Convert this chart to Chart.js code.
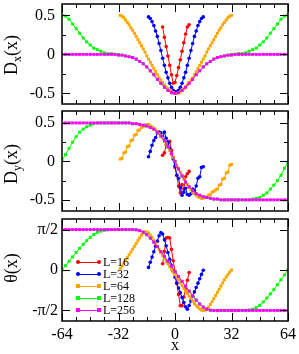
<!DOCTYPE html>
<html lang="en">
<head>
<meta charset="UTF-8">
<title>Dx, Dy and theta profiles</title>
<script src="https://cdn.jsdelivr.net/npm/chart.js"></script>
<style>
  body {
    margin: 0;
    width: 299px;
    height: 354px;
    overflow: hidden;
    position: relative;
    background: #fff;
    font-family: 'Liberation Serif', 'Times New Roman', serif;
    color: #000;
  }
  canvas { position: absolute; left: 0; }
  .ytitle {
    position: absolute;
    font-size: 18px;
    line-height: 18px;
    white-space: nowrap;
    transform: translate(-50%, -50%) rotate(-90deg);
  }
  .ytitle sub { font-size: 12px; line-height: 0; vertical-align: -4px; }
  #legend { position: absolute; left: 78px; top: 256px; font-size: 12px; }
  .row { display: flex; align-items: center; height: 12px; line-height: 12px; }
  .sample { position: relative; width: 21px; height: 12px; }
  .sample .seg { position: absolute; left: 0; right: 0; top: 5.5px; height: 1px; }
  .sample .dot { position: absolute; top: 4px; width: 4px; height: 4px; }
  .row span.txt { margin-left: 4px; }
</style>
</head>
<body>

<canvas id="p1" width="299" height="108" style="top:0"></canvas>
<canvas id="p2" width="299" height="108" style="top:107px"></canvas>
<canvas id="p3" width="299" height="139" style="top:215px"></canvas>

<div class="ytitle" style="left:11px;top:55px">D<sub>x</sub>(x)</div>
<div class="ytitle" style="left:11px;top:164px">D<sub>y</sub>(x)</div>
<div class="ytitle" style="left:11px;top:268px">θ(x)</div>
<div id="legend"></div>

<script>
// series: L = 16, 32, 64, 128, 256
const seriesLabels = ['L=16', 'L=32', 'L=64', 'L=128', 'L=256'];
const seriesFirstX = [-7, -15, -31, -64, -64];
const seriesStepX = [1, 1, 1, 2, 2];

const xTickValues = [-64, -56, -48, -40, -32, -24, -16, -8, 0, 8, 16, 24, 32, 40, 48, 56, 64];
const dTickValues = [-0.5, -0.25, 0, 0.25, 0.5];
const dTickLabels = ['-0.5', '', '0', '', '0.5'];
const thetaTickValues = [-Math.PI / 2, 0, Math.PI / 2];
const thetaTickLabels = ['-π/2', '0', 'π/2'];

// D_x(x)
const dxL16 = [0.35, 0.22, 0.10, -0.02, -0.14, -0.26, -0.37, -0.36, -0.27, -0.17, -0.07, 0.04, 0.15, 0.26, 0.35, 0.38];
const dxL32 = [0.48, 0.46, 0.42, 0.37, 0.30, 0.23, 0.14, 0.05, -0.05, -0.14, -0.23, -0.30, -0.37, -0.42, -0.46, -0.48,
  -0.48, -0.46, -0.42, -0.37, -0.30, -0.23, -0.14, -0.05, 0.05, 0.14, 0.23, 0.30, 0.37, 0.42, 0.46, 0.48];
const dxL64 = [0.50, 0.49, 0.47, 0.44, 0.41, 0.38, 0.34, 0.31, 0.27, 0.23, 0.19, 0.15, 0.11, 0.07, 0.03, -0.02,
  -0.06, -0.10, -0.14, -0.18, -0.22, -0.26, -0.30, -0.33, -0.36, -0.39, -0.42, -0.44, -0.46, -0.48, -0.49, -0.50,
  -0.50, -0.49, -0.48, -0.46, -0.44, -0.42, -0.39, -0.36, -0.33, -0.30, -0.26, -0.22, -0.18, -0.14, -0.10, -0.06,
  -0.02, 0.03, 0.07, 0.11, 0.15, 0.19, 0.23, 0.27, 0.31, 0.34, 0.38, 0.41, 0.44, 0.47, 0.49, 0.50];
const dxL128 = [0.50, 0.49, 0.45, 0.39, 0.33, 0.27, 0.21, 0.16, 0.12, 0.08, 0.06, 0.04, 0.02, 0.01, 0.01, 0.00,
  0.00, -0.01, -0.02, -0.03, -0.04, -0.06, -0.09, -0.12, -0.16, -0.21, -0.26, -0.32, -0.37, -0.42, -0.46, -0.49,
  -0.50,
  -0.49, -0.46, -0.42, -0.37, -0.32, -0.26, -0.21, -0.16, -0.12, -0.09, -0.06, -0.04, -0.03, -0.02, -0.01, 0.00,
  0.00, 0.01, 0.01, 0.02, 0.04, 0.06, 0.08, 0.12, 0.16, 0.21, 0.27, 0.33, 0.39, 0.45, 0.49, 0.50];
const dxL256 = [0, 0, 0, 0, 0, 0, 0, 0, 0, 0, 0, 0, 0, 0, 0, 0,
  -0.01, -0.01, -0.02, -0.03, -0.04, -0.06, -0.09, -0.12, -0.16, -0.21, -0.26, -0.32, -0.37, -0.42, -0.46, -0.49,
  -0.50,
  -0.49, -0.46, -0.42, -0.37, -0.32, -0.26, -0.21, -0.16, -0.12, -0.09, -0.06, -0.04, -0.03, -0.02, -0.01, -0.01,
  0, 0, 0, 0, 0, 0, 0, 0, 0, 0, 0, 0, 0, 0, 0, 0];

// D_y(x)
const dyL16 = [0.08, 0.11, 0.22, 0.24, 0.26, 0.14, 0.05, -0.08, -0.18, -0.32, -0.41, -0.30, -0.36, -0.20, -0.16, -0.13];
const dyL32 = [0.06, 0.13, 0.21, 0.27, 0.31, 0.37, 0.38, 0.37, 0.32, 0.38, 0.30, 0.25, 0.17, 0.10, 0.03, -0.06,
  -0.18, -0.22, -0.34, -0.44, -0.40, -0.35, -0.43, -0.44, -0.42, -0.36, -0.38, -0.32, -0.22, -0.20, -0.08, -0.07];
const dyL64 = [0.03, 0.04, 0.11, 0.12, 0.19, 0.20, 0.27, 0.28, 0.34, 0.35, 0.40, 0.41, 0.44, 0.45, 0.47, 0.48,
  0.48, 0.46, 0.45, 0.43, 0.41, 0.38, 0.36, 0.33, 0.30, 0.26, 0.23, 0.18, 0.14, 0.09, 0.05, 0.00,
  -0.05, -0.09, -0.14, -0.18, -0.23, -0.27, -0.30, -0.34, -0.37, -0.40, -0.42, -0.44, -0.46, -0.47, -0.48, -0.48,
  -0.47, -0.46, -0.44, -0.43, -0.40, -0.39, -0.37, -0.36, -0.31, -0.30, -0.23, -0.22, -0.15, -0.14, -0.05, -0.04];
const dyL128 = [0.01, 0.09, 0.17, 0.25, 0.32, 0.38, 0.42, 0.45, 0.47, 0.49,
  0.50, 0.50, 0.50, 0.50, 0.50, 0.50, 0.50, 0.50, 0.50, 0.50,
  0.49, 0.49, 0.48, 0.47, 0.46, 0.44, 0.42, 0.38, 0.33, 0.27, 0.19, 0.10,
  0.00,
  -0.10, -0.19, -0.27, -0.33, -0.38, -0.42, -0.44, -0.46, -0.47, -0.48, -0.49, -0.49,
  -0.50, -0.50, -0.50, -0.50, -0.50, -0.50, -0.50, -0.50, -0.50,
  -0.49, -0.48, -0.47, -0.44, -0.41, -0.36, -0.31, -0.25, -0.18, -0.09, -0.01];
const dyL256 = [0.50, 0.50, 0.50, 0.50, 0.50, 0.50, 0.50, 0.50, 0.50, 0.50,
  0.50, 0.50, 0.50, 0.50, 0.50, 0.50, 0.50, 0.50, 0.50, 0.50,
  0.49, 0.49, 0.48, 0.47, 0.46, 0.44, 0.42, 0.38, 0.33, 0.27, 0.19, 0.10,
  0.00,
  -0.10, -0.19, -0.27, -0.33, -0.38, -0.42, -0.44, -0.46, -0.47, -0.48, -0.49, -0.49,
  -0.50, -0.50, -0.50, -0.50, -0.50, -0.50, -0.50, -0.50, -0.50, -0.50,
  -0.50, -0.50, -0.50, -0.50, -0.50, -0.50, -0.50, -0.50, -0.50, -0.50];

// theta(x)
const thL16 = [0.24, 0.72, 1.24, 1.26, 1.24, 0.80, 0.36, -0.08, -0.52, -0.95, -1.39, -1.39, -1.05, -0.72, -0.40, -0.10];
const thL32 = [0.10, 0.30, 0.50, 0.71, 0.92, 1.12, 1.33, 1.45, 1.40, 1.17, 0.94, 0.68, 0.42, 0.18, -0.05, -0.28,
  -0.50, -0.70, -0.88, -1.07, -1.26, -1.43, -1.52, -1.38, -1.20, -1.02, -0.85, -0.68, -0.51, -0.34, -0.17, -0.01];
const thL64 = [0.05, 0.15, 0.26, 0.37, 0.48, 0.59, 0.70, 0.81, 0.92, 1.03, 1.14, 1.25, 1.35, 1.43, 1.48, 1.48,
  1.44, 1.36, 1.27, 1.15, 1.03, 0.91, 0.79, 0.67, 0.56, 0.45, 0.34, 0.24, 0.13, 0.03, -0.08, -0.18,
  -0.28, -0.39, -0.50, -0.60, -0.71, -0.81, -0.91, -1.01, -1.11, -1.21, -1.30, -1.38, -1.45, -1.51, -1.55, -1.57,
  -1.56, -1.51, -1.44, -1.34, -1.23, -1.11, -0.99, -0.87, -0.75, -0.62, -0.50, -0.38, -0.27, -0.17, -0.08, 0.00];
const thL128 = [0.00, 0.17, 0.34, 0.51, 0.68, 0.84, 1.00, 1.14, 1.27, 1.38, 1.46, 1.51, 1.54, 1.56,
  1.57, 1.57, 1.57, 1.57, 1.57, 1.57, 1.57,
  1.56, 1.53, 1.47, 1.37, 1.24, 1.08, 0.91, 0.72, 0.53, 0.34, 0.15,
  -0.05,
  -0.25, -0.44, -0.63, -0.82, -1.00, -1.17, -1.32, -1.44, -1.52, -1.56,
  -1.57, -1.57, -1.57, -1.57, -1.57, -1.57, -1.57, -1.57, -1.57, -1.57,
  -1.55, -1.52, -1.46, -1.37, -1.24, -1.09, -0.93, -0.76, -0.57, -0.38, -0.19, 0.00];
const thL256 = [1.57, 1.57, 1.57, 1.57, 1.57, 1.57, 1.57, 1.57, 1.57, 1.57, 1.57,
  1.57, 1.57, 1.57, 1.57, 1.57, 1.57, 1.57, 1.57, 1.57, 1.57,
  1.56, 1.53, 1.47, 1.37, 1.24, 1.08, 0.91, 0.72, 0.53, 0.34, 0.15,
  -0.05,
  -0.25, -0.44, -0.63, -0.82, -1.00, -1.17, -1.32, -1.44, -1.52, -1.56,
  -1.57, -1.57, -1.57, -1.57, -1.57, -1.57, -1.57, -1.57, -1.57, -1.57, -1.57,
  -1.57, -1.57, -1.57, -1.57, -1.57, -1.57, -1.57, -1.57, -1.57, -1.57, -1.57];

const colors = ['#ff0000', '#0000ff', '#ffa500', '#00ff00', '#ff00ff'];
const serif = "'Liberation Serif', 'Times New Roman', serif";
Chart.defaults.font.family = serif;
Chart.defaults.color = '#000';

// box round the plot with inward ticks on all four sides
const frameTicks = {
  id: 'frameTicks',
  afterDatasetsDraw(chart, args, opts) {
    const { ctx, chartArea: a, scales: { x, y } } = chart;
    ctx.save();
    ctx.strokeStyle = '#000';
    ctx.lineWidth = 1;
    ctx.beginPath();
    xTickValues.forEach(v => {
      const px = Math.round(x.getPixelForValue(v)) + 0.5;
      const len = v % 32 === 0 ? 8 : 4;
      ctx.moveTo(px, a.top); ctx.lineTo(px, a.top + len);
      ctx.moveTo(px, a.bottom); ctx.lineTo(px, a.bottom - len);
    });
    opts.yTicks.forEach((v, i) => {
      const py = Math.round(y.getPixelForValue(v)) + 0.5;
      const len = opts.yLabels[i] !== '' ? 8 : 4;
      ctx.moveTo(a.left, py); ctx.lineTo(a.left + len, py);
      ctx.moveTo(a.right, py); ctx.lineTo(a.right - len, py);
    });
    ctx.stroke();
    ctx.lineWidth = 1.5;
    ctx.strokeRect(a.left, a.top, a.right - a.left, a.bottom - a.top);
    ctx.restore();
  }
};

function makeDatasets(values) {
  return values.map((vals, s) => ({
    label: seriesLabels[s],
    data: vals.map((v, i) => ({ x: seriesFirstX[s] + i * seriesStepX[s], y: v })),
    borderColor: colors[s],
    backgroundColor: colors[s],
    borderWidth: 1,
    pointStyle: s < 2 ? 'circle' : 'rect',
    pointRadius: s < 2 ? 1.8 : 2.1,
    pointBorderWidth: 0,
    pointBackgroundColor: colors[s],
    tension: 0,
    order: 5 - s
  }));
}

function panel(id, values, yMin, yMax, yTicks, yLabels, pad, showX) {
  new Chart(document.getElementById(id), {
    type: 'line',
    data: { datasets: makeDatasets(values) },
    options: {
      responsive: false,
      animation: false,
      events: [],
      layout: { padding: pad },
      plugins: {
        legend: { display: false },
        tooltip: { enabled: false },
        frameTicks: { yTicks: yTicks, yLabels: yLabels }
      },
      scales: {
        x: {
          type: 'linear',
          min: -64,
          max: 64,
          display: showX,
          afterBuildTicks: s => { s.ticks = xTickValues.map(v => ({ value: v })); },
          afterFit: s => {
            s.height = showX ? 33 : 0;
            s.paddingLeft = 0; s.paddingRight = 0; s.paddingTop = 0; s.paddingBottom = 0;
          },
          grid: { display: false, drawTicks: false },
          border: { display: false },
          ticks: {
            autoSkip: false,
            maxRotation: 0,
            padding: 4,
            font: { size: 16 },
            callback: v => (v % 32 === 0 ? String(v) : '')
          },
          title: { display: showX, text: 'x', font: { size: 16, lineHeight: 1 }, padding: 0 }
        },
        y: {
          min: yMin,
          max: yMax,
          afterBuildTicks: s => { s.ticks = yTicks.map(v => ({ value: v })); },
          afterFit: s => {
            s.width = 62;
            s.paddingTop = 0; s.paddingBottom = 0; s.paddingLeft = 0; s.paddingRight = 0;
          },
          grid: { display: false, drawTicks: false },
          border: { display: false },
          ticks: {
            autoSkip: false,
            padding: showX ? 4 : 7,
            font: { size: 16 },
            callback: (v, i) => yLabels[i]
          }
        }
      }
    },
    plugins: [frameTicks]
  });
}

panel('p1', [dxL16, dxL32, dxL64, dxL128, dxL256], -0.635, 0.645, dTickValues, dTickLabels,
  { left: 0, right: 11, top: 1, bottom: 1 }, false);
panel('p2', [dyL16, dyL32, dyL64, dyL128, dyL256], -0.645, 0.655, dTickValues, dTickLabels,
  { left: 0, right: 11, top: 0, bottom: 0 }, false);
panel('p3', [thL16, thL32, thL64, thL128, thL256], -1.98, 1.98, thetaTickValues, thetaTickLabels,
  { left: 0, right: 11, top: 0, bottom: 0 }, true);

// legend inside the bottom panel
const legend = document.getElementById('legend');
seriesLabels.forEach((lab, s) => {
  const row = document.createElement('div');
  row.className = 'row';
  const round = s < 2 ? 'border-radius:50%;' : '';
  row.innerHTML =
    '<span class="sample">' +
    '<i class="seg" style="background:' + colors[s] + '"></i>' +
    '<i class="dot" style="left:-2px;' + round + 'background:' + colors[s] + '"></i>' +
    '<i class="dot" style="right:-2px;' + round + 'background:' + colors[s] + '"></i>' +
    '</span><span class="txt">' + lab + '</span>';
  legend.appendChild(row);
});
</script>
</body>
</html>
